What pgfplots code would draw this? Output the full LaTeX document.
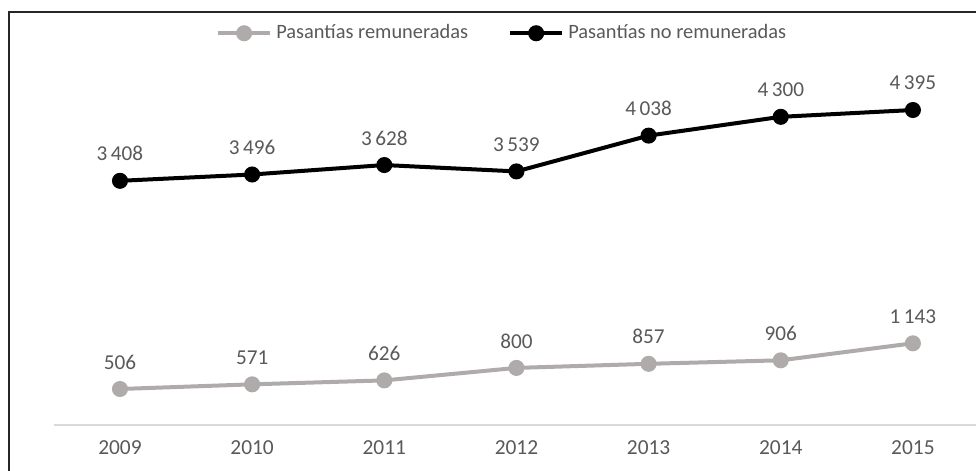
\documentclass[border=0pt]{standalone}
\usepackage{pgfplots}
\pgfplotsset{compat=1.18}
\usepackage{fontspec}
\setmainfont{Carlito}
\definecolor{txt}{HTML}{595959}
\definecolor{remun}{HTML}{AFABAB}
\definecolor{axln}{HTML}{D9D9D9}
\begin{document}
\begin{tikzpicture}
\useasboundingbox (0,0) rectangle (488pt,-235.5pt);
\draw[black!85, line width=0.6pt] (4.5pt,-260pt) -- (4.5pt,-6pt) -- (520pt,-6pt);
\begin{axis}[
  at={(26.95pt,-212.65pt)}, anchor=origin,
  scale only axis,
  width=462.55pt, height=179.35pt,
  xmin=2008.5, xmax=2015.5,
  ymin=0, ymax=5000,
  axis y line=none,
  axis x line*=bottom,
  x axis line style={axln, line width=1pt},
  xtick={2009,2010,2011,2012,2013,2014,2015},
  xticklabels={2009,2010,2011,2012,2013,2014,2015},
  major tick length=0pt,
  ytick=\empty,
  clip=false,
  font=\fontsize{10.5pt}{12pt}\selectfont,
  xticklabel style={text=txt, font=\fontsize{10.7pt}{12pt}\selectfont, anchor=center, yshift=-11pt},
  ylabel={Número de pasantes},
  ylabel style={at={(axis description cs:-0.0145,0.508)}, anchor=center, text=txt, font=\fontsize{10pt}{12pt}\selectfont},
  nodes near coords,
  nodes near coords style={text=txt, anchor=center, yshift=13.5pt, font=\fontsize{10.6pt}{12pt}\selectfont,
    /pgf/number format/.cd, 1000 sep={\,}, assume math mode=true},
  legend columns=2,
  legend style={at={(0.4855,1.093)}, anchor=center, draw=none, fill=none,
    font=\fontsize{10.2pt}{12pt}\selectfont, text=txt,
    /tikz/every odd column/.append style={column sep=0pt},
    /tikz/every even column/.append style={column sep=18pt},
    inner sep=0pt, cells={anchor=west}},
  legend image code/.code={\draw[mark repeat=2,mark phase=2] plot coordinates {(0cm,0cm)(0.46cm,0cm)(0.92cm,0cm)};},
]
\addplot[remun, line width=2pt, mark=*, mark size=3pt, mark options={solid, fill=remun, draw=remun}]
  coordinates {(2009,506) (2010,571) (2011,626) (2012,800) (2013,857) (2014,906) (2015,1143)};
\addlegendentry{Pasantías remuneradas}
\addplot[black, line width=2pt, mark=*, mark size=3pt, mark options={solid, fill=black, draw=black}]
  coordinates {(2009,3408) (2010,3496) (2011,3628) (2012,3539) (2013,4038) (2014,4300) (2015,4395)};
\addlegendentry{Pasantías no remuneradas}
\end{axis}
\end{tikzpicture}
\end{document}
